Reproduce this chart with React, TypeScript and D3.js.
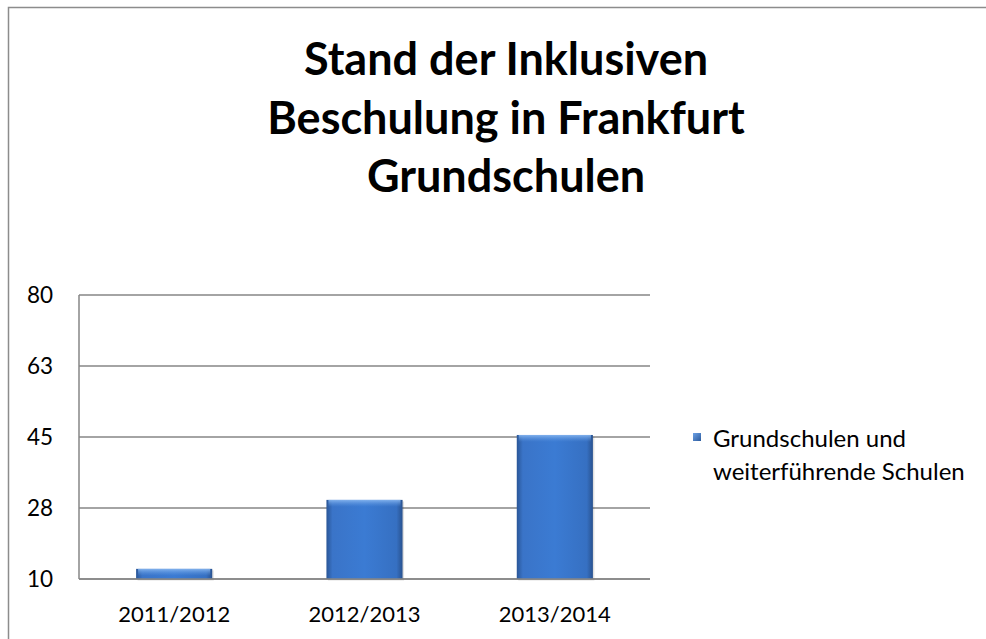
import React from "react";
import * as d3 from "d3";

const categories = ["2011/2012", "2012/2013", "2013/2014"];
const values = [12.5, 29.5, 45.5];
const yTicks = [10, 27.5, 45, 62.5, 80];
const titleLines = ["Stand der Inklusiven", "Beschulung in Frankfurt", "Grundschulen"];
const legendLines = ["Grundschulen und", "weiterführende Schulen"];

const W = 986;
const H = 639;
const plot = { left: 79, right: 650, top: 295, bottom: 579 };
const FONT = "Lato, 'Open Sans', sans-serif";

export default function App() {
  const x = d3
    .scaleBand<string>()
    .domain(categories)
    .range([plot.left, plot.right])
    .paddingInner(0.6)
    .paddingOuter(0.3);
  const y = d3.scaleLinear().domain([10, 80]).range([plot.bottom, plot.top]);
  const fmt = d3.format(".0f");

  return (
    <svg
      width={W}
      height={H}
      style={{ position: "absolute", left: 0, top: 0, background: "#fff" }}
      fontFamily={FONT}
    >
      <defs>
        <linearGradient id="barH" x1="0" x2="1" y1="0" y2="0">
          <stop offset="0" stopColor="#2a5697" />
          <stop offset="0.08" stopColor="#3a74c8" />
          <stop offset="0.5" stopColor="#3b7bd3" />
          <stop offset="0.92" stopColor="#3670c2" />
          <stop offset="1" stopColor="#29528f" />
        </linearGradient>
        <linearGradient id="barTop" x1="0" x2="0" y1="0" y2="1">
          <stop offset="0" stopColor="#8ab8f0" stopOpacity="0.9" />
          <stop offset="1" stopColor="#5b95e0" stopOpacity="0" />
        </linearGradient>
        <linearGradient id="legSq" x1="0" x2="1" y1="0" y2="1">
          <stop offset="0" stopColor="#6ea2e6" />
          <stop offset="1" stopColor="#2b5a9c" />
        </linearGradient>
      </defs>
      <rect x={0} y={0} width={W} height={H} fill="#fff" />
      {/* outer border */}
      <rect x={8.5} y={7.5} width={W + 20} height={H + 20} fill="none" stroke="#8c8c8c" strokeWidth={1.5} />

      {/* title */}
      {titleLines.map((t, i) => (
        <text
          key={t}
          x={506}
          y={75 + i * 58.5}
          textAnchor="middle"
          fontSize={45}
          fontWeight="bold"
          fill="#000"
        >
          {t}
        </text>
      ))}

      {/* gridlines */}
      {yTicks.map((v) => (
        <line
          key={v}
          x1={plot.left}
          x2={plot.right}
          y1={y(v)}
          y2={y(v)}
          stroke="#868686"
          strokeWidth={1.5}
        />
      ))}
      <line x1={plot.left} x2={plot.left} y1={plot.top} y2={plot.bottom} stroke="#868686" strokeWidth={1.5} />

      {/* y tick labels */}
      {yTicks.map((v) => (
        <text key={v} x={53} y={y(v) + 8} textAnchor="end" fontSize={22.5} fill="#000">
          {fmt(v)}
        </text>
      ))}

      {/* bars */}
      {categories.map((c, i) => {
        const bx = x(c)!;
        const bw = x.bandwidth();
        const by = y(values[i]);
        const bh = y(10) - by;
        return (
          <g key={c}>
            <rect x={bx + 1.5} y={by + 1.5} width={bw} height={bh} fill="#000" opacity={0.12} />
            <rect x={bx} y={by} width={bw} height={bh} fill="url(#barH)" />
            <rect x={bx + 2} y={by} width={bw - 4} height={Math.min(7, bh)} fill="url(#barTop)" />
          </g>
        );
      })}
      <line x1={plot.left} x2={plot.right} y1={plot.bottom} y2={plot.bottom} stroke="#868686" strokeWidth={1.5} />

      {/* x labels */}
      {categories.map((c) => (
        <text
          key={c}
          x={x(c)! + x.bandwidth() / 2}
          y={622}
          textAnchor="middle"
          fontSize={22}
          fill="#000"
        >
          {c}
        </text>
      ))}

      {/* legend */}
      <rect x={693} y={433} width={8} height={8} fill="url(#legSq)" />
      {legendLines.map((t, i) => (
        <text key={t} x={713} y={447 + i * 33} fontSize={24} fill="#000">
          {t}
        </text>
      ))}
    </svg>
  );
}
